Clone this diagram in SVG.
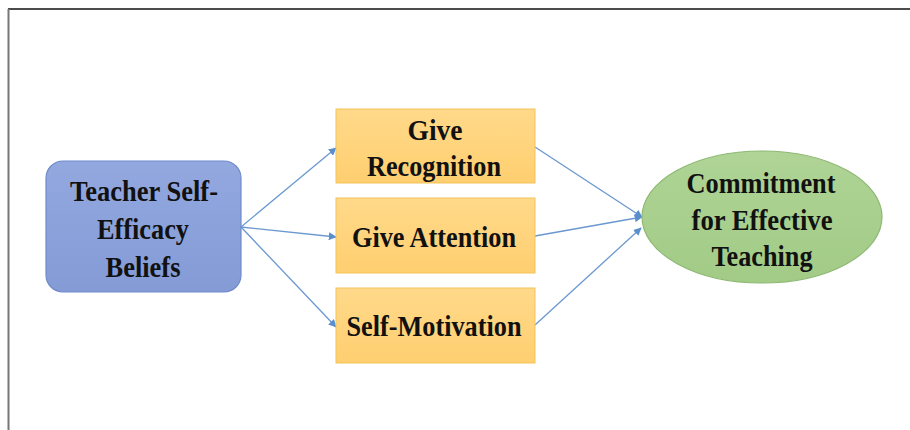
<svg xmlns="http://www.w3.org/2000/svg" width="910" height="430" viewBox="0 0 910 430">
  <defs>
    <linearGradient id="gBlue" x1="0" y1="0" x2="0" y2="1">
      <stop offset="0" stop-color="#93A8DF"/>
      <stop offset="1" stop-color="#849BD6"/>
    </linearGradient>
    <linearGradient id="gGold" x1="0" y1="0" x2="0" y2="1">
      <stop offset="0" stop-color="#FFD98A"/>
      <stop offset="1" stop-color="#FFCF70"/>
    </linearGradient>
    <linearGradient id="gGreen" x1="0" y1="0" x2="0" y2="1">
      <stop offset="0" stop-color="#AFD496"/>
      <stop offset="1" stop-color="#A2CB86"/>
    </linearGradient>
    <marker id="arrow" viewBox="0 0 10 10" refX="9" refY="5" markerWidth="8" markerHeight="8" markerUnits="userSpaceOnUse" orient="auto">
      <path d="M0,0 L10,5 L0,10 z" fill="#5B8FCC"/>
    </marker>
  </defs>
  <style>
    .lbl { font-family: "Liberation Serif", "Times New Roman", serif; font-weight: bold; font-size: 30px; fill: #111; text-anchor: middle; }
    .edge { stroke: #6A98CF; stroke-width: 1.3; fill: none; marker-end: url(#arrow); }
  </style>

  <rect width="910" height="430" fill="#FFFFFF"/>
  <!-- page frame -->
  <line x1="8" y1="9" x2="910" y2="9" stroke="#111" stroke-width="1.3"/>
  <line x1="8.5" y1="9" x2="8.5" y2="430" stroke="#777" stroke-width="2"/>

  <g id="connectors">
    <line class="edge" x1="241" y1="227" x2="336" y2="148"/>
    <line class="edge" x1="241" y1="227" x2="336" y2="237"/>
    <line class="edge" x1="241" y1="227" x2="336" y2="327"/>
    <line class="edge" x1="535" y1="147" x2="642" y2="217"/>
    <line class="edge" x1="535" y1="236" x2="642" y2="217"/>
    <line class="edge" x1="535" y1="325" x2="641" y2="228"/>
  </g>

  <g id="beliefs">
    <rect x="46" y="161" width="195" height="131" rx="17" fill="url(#gBlue)" stroke="#6F8BCB" stroke-width="1.2"/>
    <text class="lbl" x="144" y="201" textLength="148" lengthAdjust="spacingAndGlyphs">Teacher Self-</text>
    <text class="lbl" x="143" y="239" textLength="92" lengthAdjust="spacingAndGlyphs">Efficacy</text>
    <text class="lbl" x="143" y="277" textLength="75" lengthAdjust="spacingAndGlyphs">Beliefs</text>
  </g>

  <g id="recognition">
    <rect x="336" y="109" width="199" height="74" fill="url(#gGold)" stroke="#F4C35A" stroke-width="1"/>
    <text class="lbl" x="435" y="140" textLength="55" lengthAdjust="spacingAndGlyphs">Give</text>
    <text class="lbl" x="434" y="176" textLength="134" lengthAdjust="spacingAndGlyphs">Recognition</text>
  </g>

  <g id="attention">
    <rect x="336" y="198" width="199" height="75" fill="url(#gGold)" stroke="#F4C35A" stroke-width="1"/>
    <text class="lbl" x="434" y="247" textLength="164" lengthAdjust="spacingAndGlyphs">Give Attention</text>
  </g>

  <g id="motivation">
    <rect x="336" y="288" width="199" height="75" fill="url(#gGold)" stroke="#F4C35A" stroke-width="1"/>
    <text class="lbl" x="434" y="336" textLength="175" lengthAdjust="spacingAndGlyphs">Self-Motivation</text>
  </g>

  <g id="commitment">
    <ellipse cx="762" cy="217" rx="120" ry="66" fill="url(#gGreen)" stroke="#8DB873" stroke-width="1.2"/>
    <text class="lbl" x="761" y="193" textLength="149" lengthAdjust="spacingAndGlyphs">Commitment</text>
    <text class="lbl" x="762" y="230" textLength="141" lengthAdjust="spacingAndGlyphs">for Effective</text>
    <text class="lbl" x="762" y="266" textLength="101" lengthAdjust="spacingAndGlyphs">Teaching</text>
  </g>
</svg>
